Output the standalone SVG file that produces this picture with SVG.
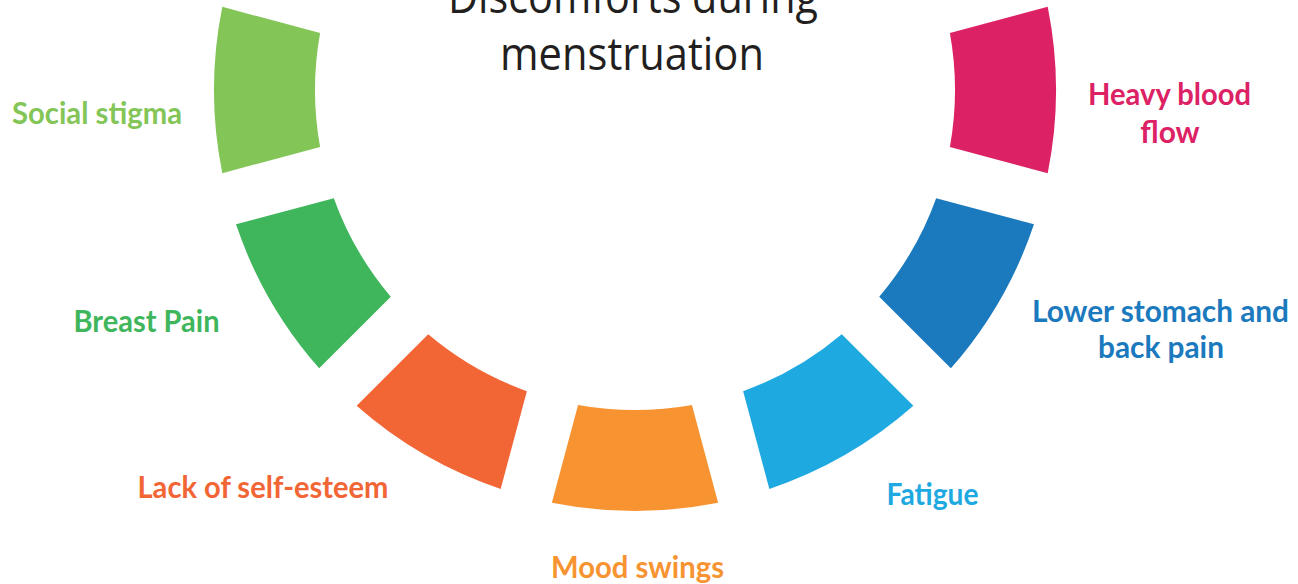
<svg xmlns="http://www.w3.org/2000/svg" xmlns:xlink="http://www.w3.org/1999/xlink" width="1298" height="584" viewBox="0 0 1298 584">
<style>
.title{font-family:"Open Sans","Liberation Sans",sans-serif;font-weight:400;font-size:45px;fill:#231F20;text-anchor:middle}
.lbl{font-family:Lato,"Liberation Sans",sans-serif;font-weight:700;font-size:30px;text-anchor:middle}
</style>
<defs>
<path id="seg" d="M1047.71,6.86 A421,421 0 0 1 1047.71,173.14 L949.89,146.94 A320,320 0 0 0 949.89,33.06 Z"/>
</defs>
<rect width="1298" height="584" fill="#FFFFFF"/>
<g id="title">
<text class="title" x="633" y="13" textLength="370" lengthAdjust="spacingAndGlyphs">Discomforts during</text>
<text class="title" x="632" y="70" textLength="264" lengthAdjust="spacingAndGlyphs">menstruation</text>
</g>
<g id="connectors"></g>
<g id="heavy-blood-flow">
<use xlink:href="#seg" href="#seg" fill="#DC2265"/>
<text class="lbl" fill="#DC2265" x="1169.5" y="105" textLength="163" lengthAdjust="spacingAndGlyphs">Heavy blood</text>
<text class="lbl" fill="#DC2265" x="1170" y="143">flow</text>
</g>
<g id="lower-stomach">
<use xlink:href="#seg" href="#seg" fill="#1B79BE" transform="rotate(30 635 90)"/>
<text class="lbl" fill="#1B79BE" x="1160.5" y="322" textLength="257" lengthAdjust="spacingAndGlyphs">Lower stomach and</text>
<text class="lbl" fill="#1B79BE" x="1161" y="358" textLength="126" lengthAdjust="spacingAndGlyphs">back pain</text>
</g>
<g id="fatigue">
<use xlink:href="#seg" href="#seg" fill="#1FA9E1" transform="rotate(60 635 90)"/>
<text class="lbl" fill="#1FA9E1" x="932.5" y="505" textLength="92" lengthAdjust="spacingAndGlyphs">Fatigue</text>
</g>
<g id="mood-swings">
<use xlink:href="#seg" href="#seg" fill="#F79431" transform="rotate(90 635 90)"/>
<text class="lbl" fill="#F79431" x="637.5" y="578" textLength="173" lengthAdjust="spacingAndGlyphs">Mood swings</text>
</g>
<g id="lack-of-self-esteem">
<use xlink:href="#seg" href="#seg" fill="#F26535" transform="rotate(120 635 90)"/>
<text class="lbl" fill="#F26535" x="263" y="498" textLength="251" lengthAdjust="spacingAndGlyphs">Lack of self-esteem</text>
</g>
<g id="breast-pain">
<use xlink:href="#seg" href="#seg" fill="#40B65C" transform="rotate(150 635 90)"/>
<text class="lbl" fill="#40B65C" x="146.5" y="332" textLength="146" lengthAdjust="spacingAndGlyphs">Breast Pain</text>
</g>
<g id="social-stigma">
<use xlink:href="#seg" href="#seg" fill="#84C557" transform="rotate(180 635 90)"/>
<text class="lbl" fill="#84C557" x="97" y="124" textLength="170" lengthAdjust="spacingAndGlyphs">Social stigma</text>
</g>
</svg>
